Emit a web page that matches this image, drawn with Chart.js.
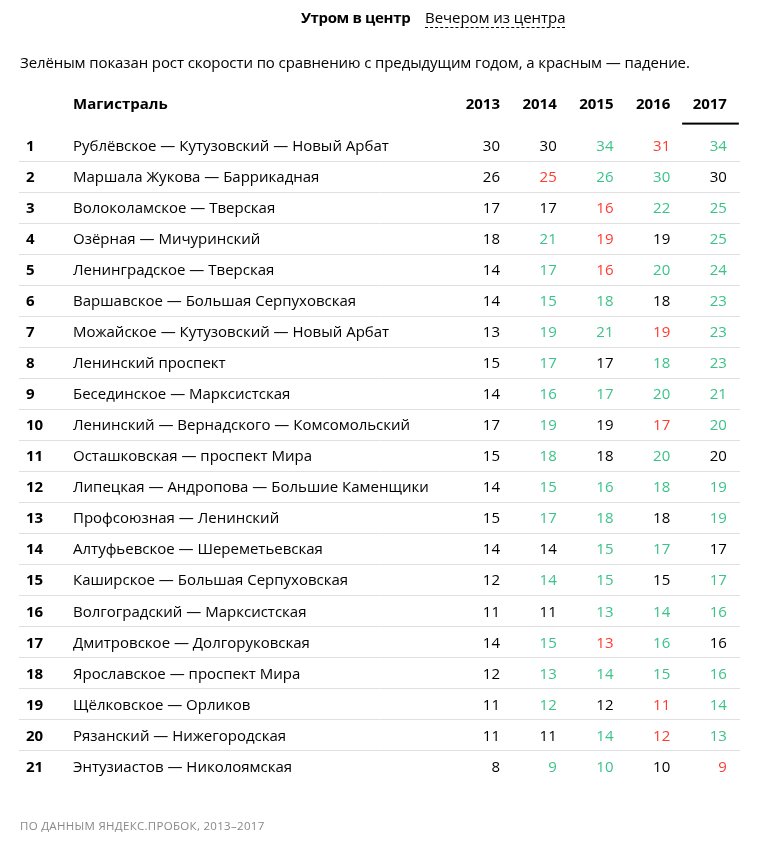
<!DOCTYPE html>
<html lang="ru">
<head>
<meta charset="utf-8">
<script src="https://cdn.jsdelivr.net/npm/chart.js@4"></script>
<style>
  html,body{margin:0;padding:0;background:#fff;}
  body{width:781px;height:845px;position:relative;overflow:hidden;font-family:"Open Sans","Noto Sans",sans-serif;color:#000;}
  #tabs{position:absolute;top:7px;left:0;width:781px;text-align:left;font-size:15px;}
  #tabs .on{position:absolute;left:301px;top:0;font-weight:bold;letter-spacing:-0.35px;}
  #tabs .off{position:absolute;left:425px;top:0;border-bottom:1px dashed #000;line-height:20px;letter-spacing:-0.05px;}
  #note{position:absolute;left:20px;top:52px;font-size:15px;letter-spacing:-0.1px;}
  #src{position:absolute;left:20px;top:818px;font-size:11.5px;color:#888;letter-spacing:0.3px;}
  #wrap{position:absolute;left:0;top:0;width:781px;height:845px;}
</style>
</head>
<body>
<div id="wrap"><canvas id="c"></canvas></div>
<div id="tabs"><span class="on">Утром в центр</span><span class="off">Вечером из центра</span></div>
<div id="note">Зелёным показан рост скорости по сравнению с предыдущим годом, а красным — падение.</div>
<div id="src">ПО ДАННЫМ ЯНДЕКС.ПРОБОК, 2013–2017</div>
<script>
const years = [2013, 2014, 2015, 2016, 2017];
const roads = [
  "Рублёвское — Кутузовский — Новый Арбат",
  "Маршала Жукова — Баррикадная",
  "Волоколамское — Тверская",
  "Озёрная — Мичуринский",
  "Ленинградское — Тверская",
  "Варшавское — Большая Серпуховская",
  "Можайское — Кутузовский — Новый Арбат",
  "Ленинский проспект",
  "Бесединское — Марксистская",
  "Ленинский — Вернадского — Комсомольский",
  "Осташковская — проспект Мира",
  "Липецкая — Андропова — Большие Каменщики",
  "Профсоюзная — Ленинский",
  "Алтуфьевское — Шереметьевская",
  "Каширское — Большая Серпуховская",
  "Волгоградский — Марксистская",
  "Дмитровское — Долгоруковская",
  "Ярославское — проспект Мира",
  "Щёлковское — Орликов",
  "Рязанский — Нижегородская",
  "Энтузиастов — Николоямская"
];
const speed2013 = [30,26,17,18,14,14,13,15,14,17,15,14,15,14,12,11,14,12,11,11,8];
const speed2014 = [30,25,17,21,17,15,19,17,16,19,18,15,17,14,14,11,15,13,12,11,9];
const speed2015 = [34,26,16,19,16,18,21,17,17,19,18,16,18,15,15,13,13,14,12,14,10];
const speed2016 = [31,30,22,19,20,18,19,18,20,17,20,18,18,17,15,14,16,15,11,12,10];
const speed2017 = [34,30,25,25,24,23,23,23,21,20,20,19,19,17,17,16,16,16,14,13,9];
const series = [speed2013, speed2014, speed2015, speed2016, speed2017];
const headerName = "Магистраль";

const GREEN = "#3cc389", RED = "#ff3b30", BLACK = "#000";
const FONT = '"Open Sans","Noto Sans",sans-serif';
const DY = 1.5;

const datasets = years.map((yr, j) => ({
  label: String(yr),
  data: series[j].map((v, i) => ({x: yr, y: i + 1, v: v})),
  pointRadius: 0,
  pointHoverRadius: 0,
  showLine: false
}));

const tablePlugin = {
  id: 'table',
  afterDatasetsDraw(chart) {
    const ctx = chart.ctx;
    const xs = chart.scales.x, ys = chart.scales.y;
    const area = chart.chartArea;
    ctx.save();
    // row separators
    ctx.strokeStyle = "#e0e0e0";
    ctx.lineWidth = 1;
    for (let i = 1; i < roads.length; i++) {
      const y = Math.round(ys.getPixelForValue(i + 0.5)) + 0.5;
      ctx.beginPath(); ctx.moveTo(area.left - 1, y); ctx.lineTo(area.right, y); ctx.stroke();
    }
    // header
    const hy = ys.getPixelForValue(-0.35) + DY;
    ctx.textBaseline = 'middle';
    ctx.fillStyle = BLACK;
    ctx.font = 'bold 15px ' + FONT;
    ctx.textAlign = 'left';
    ctx.fillText(headerName, area.left + 53, hy);
    ctx.textAlign = 'right';
    years.forEach(yr => ctx.fillText(String(yr), xs.getPixelForValue(yr), hy));
    // active column underline
    const uy = ys.getPixelForValue(0.31);
    const last = years[years.length - 1];
    ctx.fillRect(xs.getPixelForValue(last - 0.79), uy - 1, xs.getPixelForValue(last + 0.21) - xs.getPixelForValue(last - 0.79), 2);
    // rank + road names
    roads.forEach((name, i) => {
      const y = ys.getPixelForValue(i + 1) + DY;
      ctx.textAlign = 'left';
      ctx.font = 'bold 15px ' + FONT;
      ctx.fillText(String(i + 1), area.left + 6, y);
      ctx.font = '15px ' + FONT;
      ctx.fillText(name, area.left + 53, y);
    });
    // values
    ctx.font = '15px ' + FONT;
    ctx.textAlign = 'right';
    chart.data.datasets.forEach((ds, j) => {
      const meta = chart.getDatasetMeta(j);
      meta.data.forEach((pt, i) => {
        const v = ds.data[i].v;
        let col = BLACK;
        if (j > 0) {
          const prev = chart.data.datasets[j - 1].data[i].v;
          col = v > prev ? GREEN : (v < prev ? RED : BLACK);
        }
        ctx.fillStyle = col;
        ctx.fillText(String(v), pt.x, pt.y + DY);
      });
    });
    ctx.restore();
  }
};

new Chart(document.getElementById('c'), {
  type: 'scatter',
  data: { datasets },
  options: {
    responsive: true,
    maintainAspectRatio: false,
    animation: false,
    events: [],
    layout: { padding: { left: 20, right: 41, top: 129.5, bottom: 63.5 } },
    plugins: { legend: { display: false }, tooltip: { enabled: false } },
    scales: {
      x: { type: 'linear', display: false, min: 2004.54, max: 2017.23 },
      y: { type: 'linear', display: false, reverse: true, min: 0.5, max: 21.5 }
    }
  },
  plugins: [tablePlugin]
});
</script>
</body>
</html>
